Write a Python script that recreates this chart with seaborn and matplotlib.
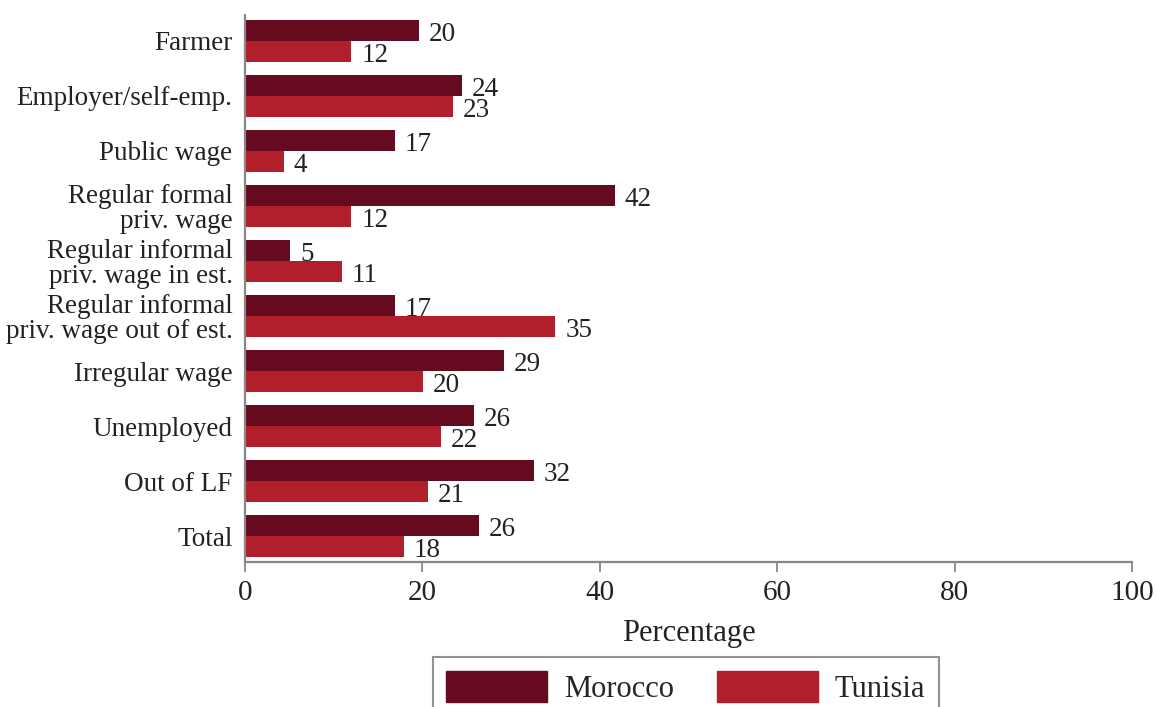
import pandas as pd
import seaborn as sns
from matplotlib import pyplot as plt

categories = ['Farmer', 'Employer/self-emp.', 'Public wage',
              'Regular formal\npriv. wage', 'Regular informal\npriv. wage in est.',
              'Regular informal\npriv. wage out of est.', 'Irregular wage',
              'Unemployed', 'Out of LF', 'Total']
morocco = [19.6, 24.5, 16.9, 41.7, 5.1, 16.9, 29.2, 25.8, 32.6, 26.4]
tunisia = [12.0, 23.5, 4.4, 12.0, 10.9, 35.0, 20.1, 22.1, 20.6, 17.9]
morocco_labels = ['20', '24', '17', '42', '5', '17', '29', '26', '32', '26']
tunisia_labels = ['12', '23', '4', '12', '11', '35', '20', '22', '21', '18']
colors = ['#650a1f', '#b11f2b']

df = pd.DataFrame({
    'cat': categories * 2,
    'val': morocco + tunisia,
    'country': ['Morocco'] * len(categories) + ['Tunisia'] * len(categories),
})

sns.set_style('white')
plt.rcParams['font.family'] = ['Liberation Serif', 'DejaVu Serif']

fig = plt.figure(figsize=(11.57, 7.07), dpi=100)
ax = fig.add_axes([0.2118, 0.205, 0.7666, 0.774])

sns.barplot(data=df, y='cat', x='val', hue='country', palette=colors,
            orient='h', width=0.76, linewidth=0, saturation=1,
            legend=False, ax=ax)

# etiquetas de valor, un poco mas abajo que el centro de la barra
for cont, labs in zip(ax.containers, [morocco_labels, tunisia_labels]):
    anns = ax.bar_label(cont, labels=labs, padding=7, fontsize=19.5, color='#222222')
    for a in anns:
        a.xyann = (7, -3)

ax.set_xlim(0, 100)
ax.set_ylim(9.47, -0.47)
ax.set_xticks([0, 20, 40, 60, 80, 100])
ax.set_ylabel('')
ax.set_xlabel('Percentage', fontsize=22, labelpad=9, color='#222222')
ax.tick_params(axis='x', bottom=True, labelsize=21, length=7, width=1.3,
               color='#888888', direction='out', pad=6, labelcolor='#222222')
ax.tick_params(axis='y', left=False, labelsize=19.5, length=0, pad=9,
               labelcolor='#222222')
for lab in ax.get_yticklabels():
    lab.set_linespacing(1.0)

for s in ['top', 'right']:
    ax.spines[s].set_visible(False)
for s in ['left', 'bottom']:
    ax.spines[s].set_color('#888888')
    ax.spines[s].set_linewidth(1.6)

handles = [plt.Rectangle((0, 0), 1, 1, color=c) for c in colors]
leg = fig.legend(handles, ['Morocco', 'Tunisia'], loc='upper left',
                 bbox_to_anchor=(0.374, 0.071), bbox_transform=fig.transFigure,
                 ncol=2, fontsize=22, frameon=True, fancybox=False,
                 handlelength=3.3, handleheight=1.2, columnspacing=1.4,
                 borderpad=0.45, handletextpad=0.55, borderaxespad=0)
leg.get_frame().set_edgecolor('#777777')
leg.get_frame().set_linewidth(1.5)

fig.savefig('out.png', dpi=100)
plt.close()
